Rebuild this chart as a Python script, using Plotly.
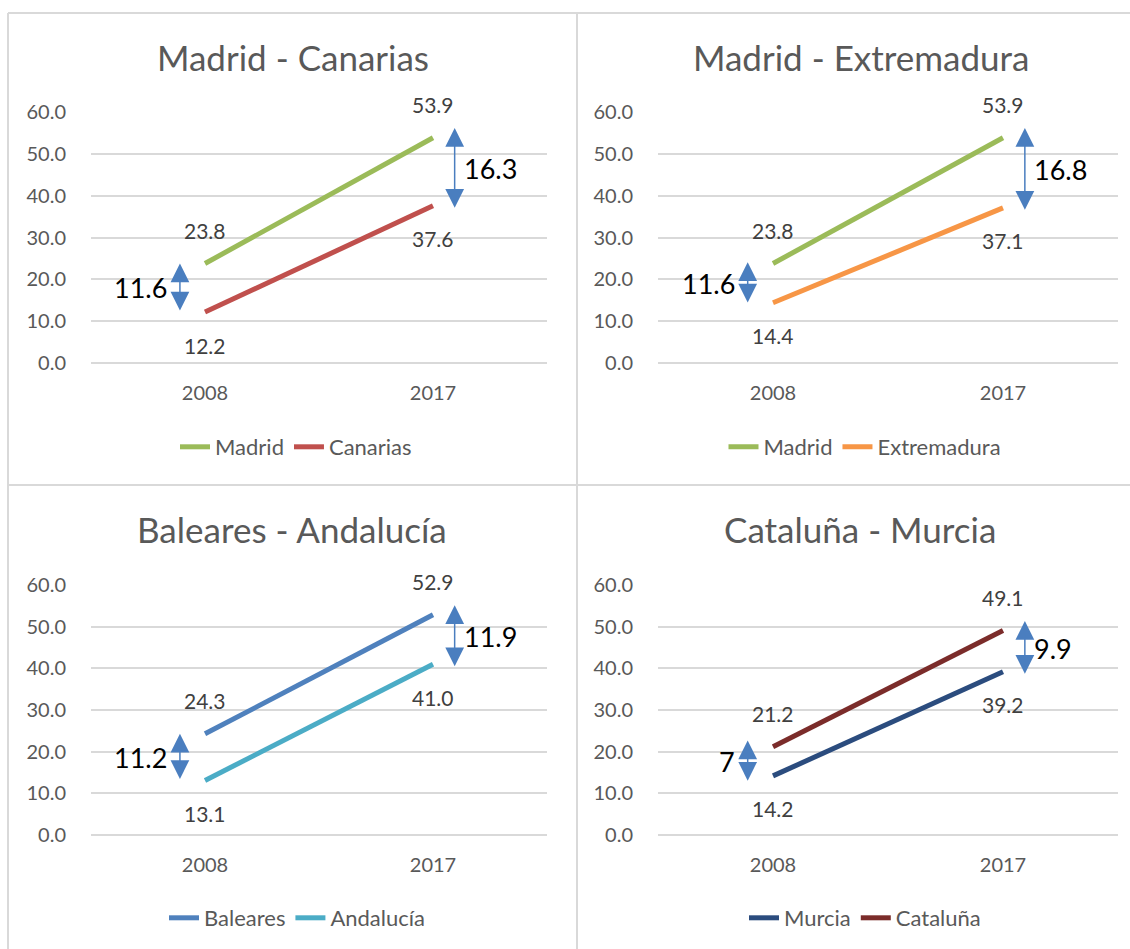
import plotly.graph_objects as go

years = ['2008', '2017']

titles = ['Madrid - Canarias', 'Madrid - Extremadura', 'Baleares - Andalucía', 'Cataluña - Murcia']

madrid = [23.8, 53.9]
canarias = [12.2, 37.6]
extremadura = [14.4, 37.1]
baleares = [24.3, 52.9]
andalucia = [13.1, 41.0]
murcia = [14.2, 39.2]
cataluna = [21.2, 49.1]

# texts written next to the arrows (as typed in the original)
gap_2008 = ['11.6', '11.6', '11.2', '7']
gap_2017 = ['16.3', '16.8', '11.9', '9.9']

FONT = 'Lato'
GREY = '#595959'
GRID = '#D9D9D9'
ARROW = '#4A7EBF'

W, H = 1130, 949


def fx(px):
    return px / W


def fy(py):
    return 1 - py / H


# (title, series [name, values, colour, upper/lower], x px domain, y px domain, title centre, legend centre)
panels = [
    (titles[0], [('Madrid', madrid, '#9BBB59', 'up'), ('Canarias', canarias, '#C0504D', 'down')],
     (91, 547), (112, 363), (293, 57), (296, 447)),
    (titles[1], [('Madrid', madrid, '#9BBB59', 'up'), ('Extremadura', extremadura, '#F79646', 'down')],
     (658, 1118), (112, 363), (861, 57), (865, 447)),
    (titles[2], [('Baleares', baleares, '#4F81BD', 'up'), ('Andalucía', andalucia, '#4BACC6', 'down')],
     (91, 547), (585, 835), (292, 529), (297, 918)),
    (titles[3], [('Murcia', murcia, '#2B4C7E', 'down'), ('Cataluña', cataluna, '#7B2C2A', 'up')],
     (658, 1118), (585, 835), (860, 529), (865, 918)),
]

fig = go.Figure()
annotations = []
layout = {}

for i, (title, series, xdom, ydom, tpos, lpos) in enumerate(panels):
    n = '' if i == 0 else str(i + 1)
    xr, yr = 'x' + n, 'y' + n
    leg = 'legend' + n

    for name, vals, color, side in series:
        fig.add_trace(go.Scatter(x=years, y=vals, name=name, mode='lines',
                                 line=dict(color=color, width=5),
                                 xaxis=xr, yaxis=yr, legend=leg, hoverinfo='skip'))
        for j, v in enumerate(vals):
            annotations.append(dict(x=j, y=v, xref=xr, yref=yr, text=f'{v:.1f}', showarrow=False,
                                    yshift=33 if side == 'up' else -33,
                                    font=dict(family=FONT, size=21, color='#404040')))

    up = [s[1] for s in series if s[3] == 'up'][0]
    lo = [s[1] for s in series if s[3] == 'down'][0]

    # left arrow: between the 2008 values, never shorter than 10 units
    mid = (up[0] + lo[0]) / 2
    half = max((up[0] - lo[0]) / 2, 5)
    arrows = [(-0.11, mid + half, mid - half, gap_2008[i], False),
              (1.095, up[1] + 2.3, lo[1] - 0.8, gap_2017[i], True)]

    for xa, top, bot, txt, right in arrows:
        annotations.append(dict(x=xa, y=top, ax=xa, ay=bot, xref=xr, yref=yr, axref=xr, ayref=yr,
                                text='', showarrow=True, arrowside='end+start',
                                arrowhead=2, startarrowhead=2, arrowsize=2.5, startarrowsize=2.5,
                                arrowwidth=1.5, arrowcolor=ARROW))
        annotations.append(dict(x=xa, y=(top + bot) / 2, xref=xr, yref=yr, text=txt, showarrow=False,
                                xanchor='left' if right else 'right', xshift=7 if right else -11,
                                font=dict(family=FONT, size=27, color='black')))

    annotations.append(dict(x=fx(tpos[0]), y=fy(tpos[1]), xref='paper', yref='paper', text=title,
                            showarrow=False, xanchor='center', yanchor='middle',
                            font=dict(family=FONT, size=35, color=GREY)))

    layout['xaxis' + n] = dict(domain=[fx(xdom[0]), fx(xdom[1])], anchor=yr, type='category',
                               range=[-0.5, 1.5], showgrid=False, zeroline=False, showline=False,
                               ticks='outside', ticklen=12, tickcolor='rgba(0,0,0,0)',
                               tickfont=dict(family=FONT, size=20, color=GREY), fixedrange=True)
    layout['yaxis' + n] = dict(domain=[fy(ydom[1]), fy(ydom[0])], anchor=xr, range=[0, 60.05],
                               dtick=10, tickformat='.1f', showgrid=True, gridcolor=GRID, gridwidth=1.5,
                               zeroline=True, zerolinecolor=GRID, zerolinewidth=1.5, showline=False,
                               ticks='outside', ticklen=20, tickcolor='rgba(0,0,0,0)',
                               tickfont=dict(family=FONT, size=20, color=GREY), fixedrange=True)
    layout[leg] = dict(orientation='h', x=fx(lpos[0]), y=fy(lpos[1]), xanchor='center', yanchor='middle',
                       font=dict(family=FONT, size=22, color=GREY), bgcolor='rgba(0,0,0,0)',
                       itemclick=False, itemdoubleclick=False)

# panel borders
border = dict(color='#D9D9D9', width=2)
shapes = [
    dict(type='line', xref='paper', yref='paper', x0=fx(8), x1=1, y0=fy(13), y1=fy(13), line=border),
    dict(type='line', xref='paper', yref='paper', x0=fx(8), x1=fx(8), y0=fy(13), y1=0, line=border),
    dict(type='line', xref='paper', yref='paper', x0=fx(577), x1=fx(577), y0=fy(13), y1=0, line=border),
    dict(type='line', xref='paper', yref='paper', x0=fx(8), x1=1, y0=fy(485), y1=fy(485), line=border),
]

fig.update_layout(width=W, height=H, margin=dict(l=0, r=0, t=0, b=0, autoexpand=False),
                  paper_bgcolor='white', plot_bgcolor='white',
                  annotations=annotations, shapes=shapes, **layout)

# drop the browser's default body margin so the figure fills the window
fig.write_html("out.html", config={'displayModeBar': False},
               post_script="document.body.style.margin='0';document.body.style.overflow='hidden';")
